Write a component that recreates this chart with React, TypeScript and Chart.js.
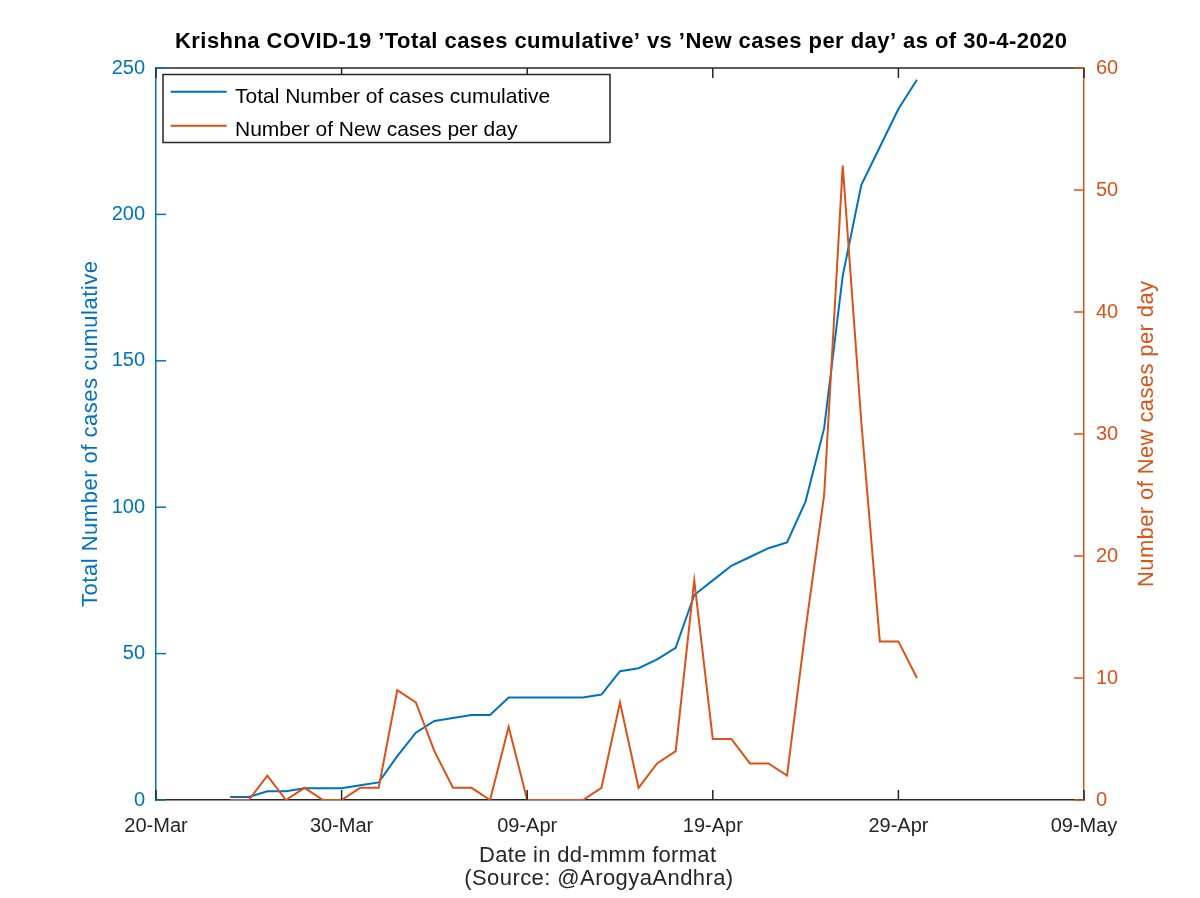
import React, { useEffect, useRef } from 'react';
import { Chart, registerables } from 'chart.js';

Chart.register(...registerables);

// ---------- data ----------
const xStart = '2020-03-20';
const xEnd = '2020-05-09';
const xTickLabels = ['20-Mar', '30-Mar', '09-Apr', '19-Apr', '29-Apr', '09-May'];
const leftTicks = [0, 50, 100, 150, 200, 250];
const rightTicks = [0, 10, 20, 30, 40, 50, 60];

const dates = [
  '2020-03-24', '2020-03-25', '2020-03-26', '2020-03-27', '2020-03-28', '2020-03-29',
  '2020-03-30', '2020-03-31', '2020-04-01', '2020-04-02', '2020-04-03', '2020-04-04',
  '2020-04-05', '2020-04-06', '2020-04-07', '2020-04-08', '2020-04-09', '2020-04-10',
  '2020-04-11', '2020-04-12', '2020-04-13', '2020-04-14', '2020-04-15', '2020-04-16',
  '2020-04-17', '2020-04-18', '2020-04-19', '2020-04-20', '2020-04-21', '2020-04-22',
  '2020-04-23', '2020-04-24', '2020-04-25', '2020-04-26', '2020-04-27', '2020-04-28',
  '2020-04-29', '2020-04-30',
];
const totalCases = [
  1, 1, 3, 3, 4, 4, 4, 5, 6, 15, 23, 27, 28, 29, 29, 35, 35, 35, 35, 35,
  36, 44, 45, 48, 52, 70, 75, 80, 83, 86, 88, 102, 127, 179, 210, 223, 236, 246,
];
const newCases = [
  0, 0, 2, 0, 1, 0, 0, 1, 1, 9, 8, 4, 1, 1, 0, 6, 0, 0, 0, 0,
  1, 8, 1, 3, 4, 18, 5, 5, 3, 3, 2, 14, 25, 52, 31, 13, 13, 10,
];

const titleText = 'Krishna COVID-19 \u2019Total cases cumulative\u2019 vs \u2019New cases per day\u2019 as of 30-4-2020';
const seriesNames = ['Total Number of cases cumulative', 'Number of New cases per day'];
const xLabelLines = ['Date in dd-mmm format', '(Source: @ArogyaAndhra)'];
const leftLabel = 'Total Number of cases cumulative';
const rightLabel = 'Number of New cases per day';

// ---------- styles ----------
const BLUE = '#0072BD';
const ORANGE = '#D95319';
const DARK = '#262626';
const FONT = '"Liberation Sans", Arial, Helvetica, sans-serif';
const TICK_LEN = 10;

const dayMs = 86400000;
const dayOf = (s: string) =>
  (Date.parse(s + 'T00:00:00Z') - Date.parse(xStart + 'T00:00:00Z')) / dayMs;
const xMax = dayOf(xEnd);

// draw text with slight letter spacing so it spans a target width, centred on cx
function fitText(ctx: any, text: string, cx: number, y: number, font: string, width: number) {
  ctx.font = font;
  ctx.letterSpacing = '0px';
  const w = ctx.measureText(text).width;
  const n = Math.max(text.length - 1, 1);
  const sp = Math.max(0, (width - w) / n);
  ctx.letterSpacing = `${sp}px`;
  ctx.textAlign = 'left';
  const real = w + sp * n;
  ctx.fillText(text, cx - real / 2, y);
  ctx.letterSpacing = '0px';
}

const decorPlugin = {
  id: 'decor',
  afterDraw(chart: any) {
    const { ctx, chartArea: a, scales } = chart;
    const x = scales.x;
    const yL = scales.y;
    const yR = scales.y1;
    ctx.save();

    // top border
    ctx.lineWidth = 1.5;
    ctx.strokeStyle = DARK;
    ctx.beginPath();
    ctx.moveTo(a.left, a.top);
    ctx.lineTo(a.right, a.top);
    ctx.stroke();

    // x ticks (bottom + top), inward
    x.ticks.forEach((t: any) => {
      const px = x.getPixelForValue(t.value);
      ctx.beginPath();
      ctx.moveTo(px, a.bottom);
      ctx.lineTo(px, a.bottom - TICK_LEN);
      ctx.moveTo(px, a.top);
      ctx.lineTo(px, a.top + TICK_LEN);
      ctx.stroke();
    });
    // left ticks
    ctx.strokeStyle = BLUE;
    yL.ticks.forEach((t: any) => {
      const py = yL.getPixelForValue(t.value);
      ctx.beginPath();
      ctx.moveTo(a.left, py);
      ctx.lineTo(a.left + TICK_LEN, py);
      ctx.stroke();
    });
    // right ticks
    ctx.strokeStyle = ORANGE;
    yR.ticks.forEach((t: any) => {
      const py = yR.getPixelForValue(t.value);
      ctx.beginPath();
      ctx.moveTo(a.right, py);
      ctx.lineTo(a.right - TICK_LEN, py);
      ctx.stroke();
    });

    // legend
    const lx = 163, ly = 74.5, lw = 447, lh = 68;
    ctx.fillStyle = '#ffffff';
    ctx.fillRect(lx, ly, lw, lh);
    ctx.strokeStyle = DARK;
    ctx.lineWidth = 1.5;
    ctx.strokeRect(lx, ly, lw, lh);
    const rows = [
      { ly: 91.7, base: 103.3, color: BLUE, text: seriesNames[0] },
      { ly: 125.7, base: 136.3, color: ORANGE, text: seriesNames[1] },
    ];
    ctx.textBaseline = 'alphabetic';
    ctx.font = `21px ${FONT}`;
    ctx.letterSpacing = '0px';
    const w0 = ctx.measureText(seriesNames[0]).width;
    const legSp = Math.max(0, (313 - w0) / (seriesNames[0].length - 1));
    rows.forEach((r) => {
      ctx.strokeStyle = r.color;
      ctx.lineWidth = 2;
      ctx.beginPath();
      ctx.moveTo(170.7, r.ly);
      ctx.lineTo(226.7, r.ly);
      ctx.stroke();
      ctx.fillStyle = '#000000';
      ctx.font = `21px ${FONT}`;
      ctx.textAlign = 'left';
      ctx.letterSpacing = `${legSp}px`;
      ctx.fillText(r.text, 235, r.base);
      ctx.letterSpacing = '0px';
    });

    // title
    ctx.fillStyle = '#000000';
    ctx.textBaseline = 'alphabetic';
    fitText(ctx, titleText, 621, 47.5, `bold 22px ${FONT}`, 892);

    // x label
    ctx.fillStyle = DARK;
    fitText(ctx, xLabelLines[0], 597.5, 862.3, `22px ${FONT}`, 237);
    fitText(ctx, xLabelLines[1], 598.7, 885, `22px ${FONT}`, 269);

    // y labels
    ctx.textBaseline = 'middle';
    const cy = (a.top + a.bottom) / 2;
    ctx.save();
    ctx.translate(91, cy);
    ctx.rotate(-Math.PI / 2);
    ctx.fillStyle = BLUE;
    fitText(ctx, leftLabel, 0, 0, `22px ${FONT}`, 346);
    ctx.restore();

    ctx.save();
    ctx.translate(1147, cy);
    ctx.rotate(-Math.PI / 2);
    ctx.fillStyle = ORANGE;
    fitText(ctx, rightLabel, 0, 0, `22px ${FONT}`, 306);
    ctx.restore();

    ctx.restore();
  },
};

export default function App() {
  const ref = useRef<HTMLCanvasElement | null>(null);

  useEffect(() => {
    document.body.style.margin = '0';
    const canvas = ref.current;
    if (!canvas) return;
    const xs = dates.map(dayOf);
    const chart = new Chart(canvas, {
      type: 'line',
      data: {
        datasets: [
          {
            label: seriesNames[0],
            data: xs.map((d, i) => ({ x: d, y: totalCases[i] })),
            borderColor: BLUE,
            backgroundColor: BLUE,
            borderWidth: 2,
            pointRadius: 0,
            tension: 0,
            yAxisID: 'y',
            order: 2,
          },
          {
            label: seriesNames[1],
            data: xs.map((d, i) => ({ x: d, y: newCases[i] })),
            borderColor: ORANGE,
            backgroundColor: ORANGE,
            borderWidth: 2,
            pointRadius: 0,
            tension: 0,
            yAxisID: 'y1',
            order: 1,
          },
        ],
      },
      options: {
        responsive: false,
        animation: false,
        devicePixelRatio: 1,
        layout: { padding: { top: 68, left: 0, right: 0, bottom: 0 } },
        plugins: {
          legend: { display: false },
          title: { display: false },
          tooltip: { enabled: false },
        },
        scales: {
          x: {
            type: 'linear',
            min: 0,
            max: xMax,
            afterBuildTicks: (scale: any) => {
              scale.ticks = xTickLabels.map((_, i) => ({ value: (i * xMax) / (xTickLabels.length - 1) }));
            },
            afterFit: (scale: any) => {
              scale.height = 98;
            },
            ticks: {
              autoSkip: false,
              maxRotation: 0,
              padding: 14,
              color: DARK,
              font: { family: FONT, size: 20 },
              callback: (_v: any, i: number) => xTickLabels[i],
            },
            grid: { display: false, drawTicks: false },
            border: { display: true, color: DARK, width: 1.5 },
          },
          y: {
            type: 'linear',
            position: 'left',
            min: 0,
            max: 250,
            afterBuildTicks: (scale: any) => {
              scale.ticks = leftTicks.map((v) => ({ value: v }));
            },
            afterFit: (scale: any) => {
              scale.width = 156;
            },
            ticks: {
              padding: 11,
              color: BLUE,
              font: { family: FONT, size: 20 },
              callback: (v: any) => String(v),
            },
            grid: { display: false, drawTicks: false },
            border: { display: true, color: BLUE, width: 1.5 },
          },
          y1: {
            type: 'linear',
            position: 'right',
            min: 0,
            max: 60,
            afterBuildTicks: (scale: any) => {
              scale.ticks = rightTicks.map((v) => ({ value: v }));
            },
            afterFit: (scale: any) => {
              scale.width = 116;
            },
            ticks: {
              padding: 12,
              color: ORANGE,
              font: { family: FONT, size: 20 },
              callback: (v: any) => String(v),
            },
            grid: { display: false, drawTicks: false },
            border: { display: true, color: ORANGE, width: 1.5 },
          },
        },
      },
      plugins: [decorPlugin],
    });
    return () => chart.destroy();
  }, []);

  return (
    <div style={{ width: 1200, height: 898, background: '#ffffff' }}>
      <canvas ref={ref} width={1200} height={898} style={{ display: 'block' }} />
    </div>
  );
}
